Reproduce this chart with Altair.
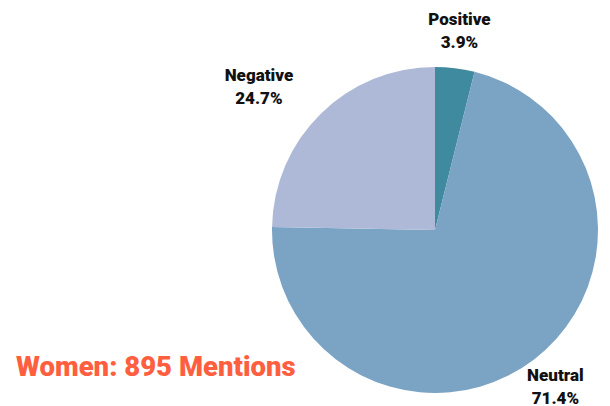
import altair as alt
import pandas as pd

categories = ["Positive", "Neutral", "Negative"]
values = [3.9, 71.4, 24.7]
colors = ["#3f8a9e", "#7ba3c4", "#aeb9d8"]
title_text = "Women: 895 Mentions"

df = pd.DataFrame({
    "category": categories,
    "value": values,
    "order": list(range(len(categories))),
})
df["label"] = df["category"] + "\n" + df["value"].map(lambda v: f"{v:.1f}%")

W, H = 594, 398
cx, cy = 427, 222

pie = alt.Chart(df).mark_arc(outerRadius=163, stroke=None).encode(
    theta=alt.Theta("value:Q", stack=True),
    order=alt.Order("order:Q"),
    color=alt.Color("category:N", scale=alt.Scale(domain=categories, range=colors), legend=None),
    x=alt.value(cx), y=alt.value(cy),
)

label_base = alt.Chart(df).transform_window(
    cum="sum(value)", sort=[alt.SortField("order")], frame=[None, 0]
).transform_calculate(
    mid="datum.cum - datum.value / 2"
)

label_style = {"Positive": (200, 0), "Neutral": (198, 0), "Negative": (200, -36)}
texts = []
for cat in categories:
    r, ddx = label_style[cat]
    t = label_base.transform_filter(alt.datum.category == cat).mark_text(
        radius=r, dx=ddx, dy=-11.5, font="Roboto", fontWeight=900, fontSize=17,
        color="#111111", lineBreak="\n", lineHeight=23, align="center", baseline="middle",
    ).encode(
        theta=alt.Theta("mid:Q", scale=alt.Scale(domain=[0, 100], range=[0, 6.283185307179586])),
        text="label:N",
        x=alt.value(cx), y=alt.value(cy),
    )
    texts.append(t)

title = alt.Chart(pd.DataFrame({"t": [title_text]})).mark_text(
    font="Roboto", fontWeight=900, fontSize=27.5, color="#ff5f3f", align="left", baseline="middle",
).encode(text="t:N", x=alt.value(8), y=alt.value(360))

chart = alt.layer(pie, *texts, title).resolve_scale(theta="independent").properties(
    width=W, height=H, padding=0, autosize=alt.AutoSizeParams(type="none")
).configure_view(stroke=None)

chart.save("out.html", embed_options={"renderer": "svg", "actions": False})
